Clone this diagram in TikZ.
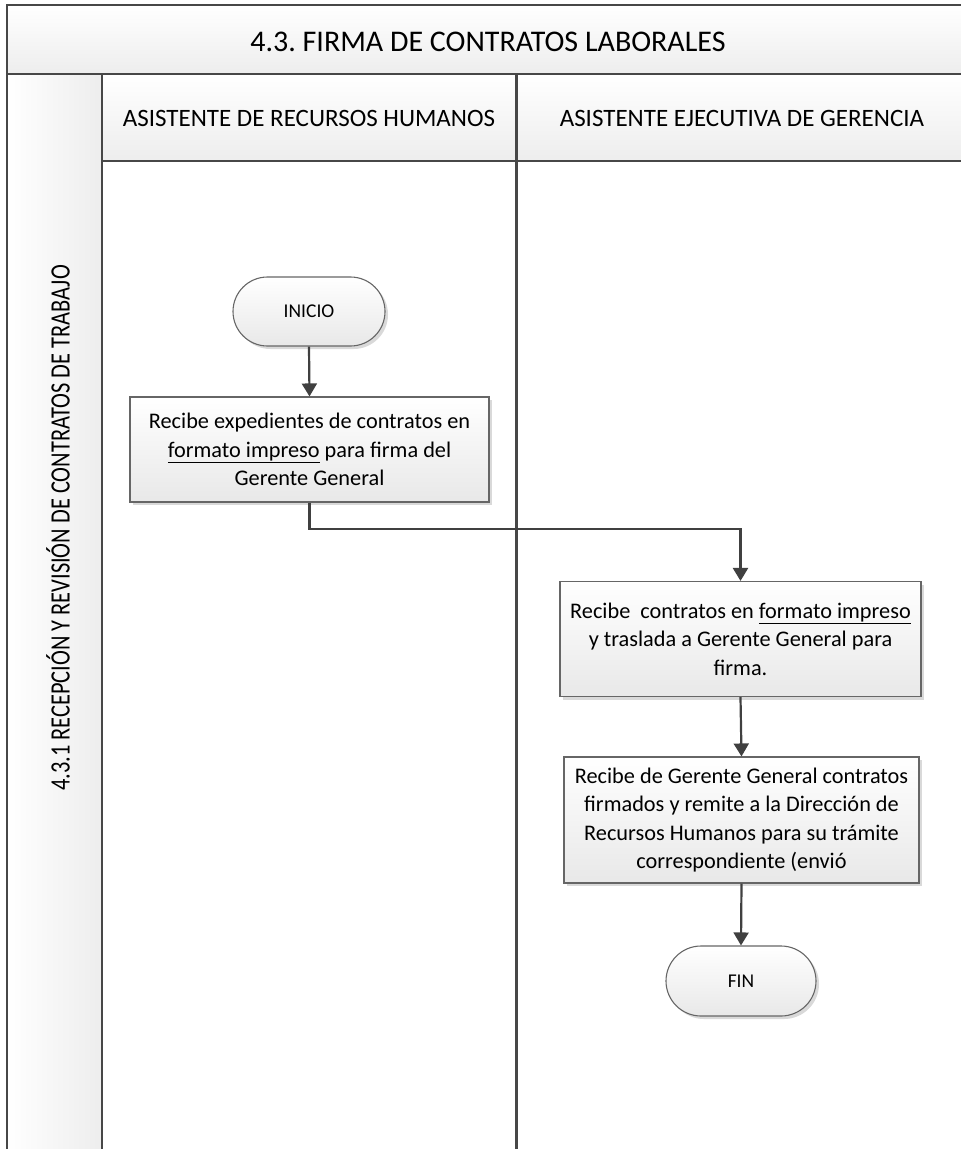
\documentclass[tikz,border=0pt]{standalone}
\usepackage{fontspec}
\setmainfont{Carlito}
\usetikzlibrary{shapes.misc,arrows.meta,shadows}
\frenchspacing
\begin{document}
\begin{tikzpicture}[x=1pt,y=-1pt,
  frame/.style={draw=black!72, line width=2.2pt},
  band/.style={top color=white, bottom color=black!7},
  proc/.style={draw=black!60, line width=1.1pt, top color=white, bottom color=black!9,
    drop shadow={shadow xshift=3pt, shadow yshift=-3pt, fill=black!25, opacity=0.6},
    align=center, inner sep=0pt, font=\fontsize{22.3}{28.5}\selectfont},
  term/.style={rounded rectangle, draw=black!60, line width=1.1pt, top color=white, bottom color=black!9,
    drop shadow={shadow xshift=3pt, shadow yshift=-3pt, fill=black!25, opacity=0.6},
    inner sep=0pt, font=\fontsize{19.5}{22}\selectfont},
  flow/.style={draw=black!75, line width=2.2pt, -{Triangle[length=13pt,width=15pt]}},
  hdr/.style={font=\fontsize{25}{28}\selectfont}]
\useasboundingbox (0,0) rectangle (961,1149);
\clip (0,0) rectangle (961,1149);
% title bar
\shade[band] (7,5) rectangle (975,74);
% header row
\shade[band] (102,74) rectangle (975,161);
% left band
\shade[left color=white, right color=black!7] (7,74) rectangle (102,1160);
% frame lines
\draw[frame] (7,1160) -- (7,5) -- (975,5);
\draw[frame] (7,74) -- (975,74);
\draw[frame] (102,74) -- (102,1160);
\draw[frame] (102,161) -- (975,161);
\draw[frame] (516.5,74) -- (516.5,1160);
% texts
\node[font=\fontsize{30}{34}\selectfont] (title) at (488,42) {4.3. FIRMA DE CONTRATOS LABORALES};
\node[hdr] (h1) at (309,118) {ASISTENTE DE RECURSOS HUMANOS};
\node[hdr] (h2) at (742,118) {ASISTENTE EJECUTIVA DE GERENCIA};
\node[rotate=90, font=\fontsize{28}{32}\selectfont] (lane) at (58,528) {\scalebox{0.8}[1]{4.3.1 RECEPCIÓN Y REVISIÓN DE CONTRATOS DE TRABAJO}};
% nodes
\node[term, minimum width=152pt, minimum height=69pt] (inicio) at (309,311.5) {INICIO};
\node[proc, minimum width=359pt, minimum height=105pt] (b1) at (309.5,449.5)
  {Recibe expedientes de contratos en\\\underline{formato impreso} para firma del\\Gerente General};
\node[proc, minimum width=361pt, minimum height=115pt] (b2) at (740.5,639)
  {Recibe\ \ contratos en \underline{formato impreso}\\y traslada a Gerente General para\\firma.};
\node[proc, minimum width=355pt, minimum height=126pt] (b3) at (741.5,820)
  {Recibe de Gerente General contratos\\firmados y remite a la Dirección de\\Recursos Humanos para su trámite\\correspondiente (envió};
\node[term, minimum width=150pt, minimum height=70pt] (fin) at (741,981) {FIN};
% connectors
\draw[flow] (inicio.south) -- (b1.north);
\coordinate (c1) at (b2.north |- 0,529);
\draw[flow] (b1.south) |- (c1) -- (b2.north);
\draw[flow] (b2.south) -- (b3.north);
\draw[flow] (b3.south) -- (fin.north);
\end{tikzpicture}
\end{document}
